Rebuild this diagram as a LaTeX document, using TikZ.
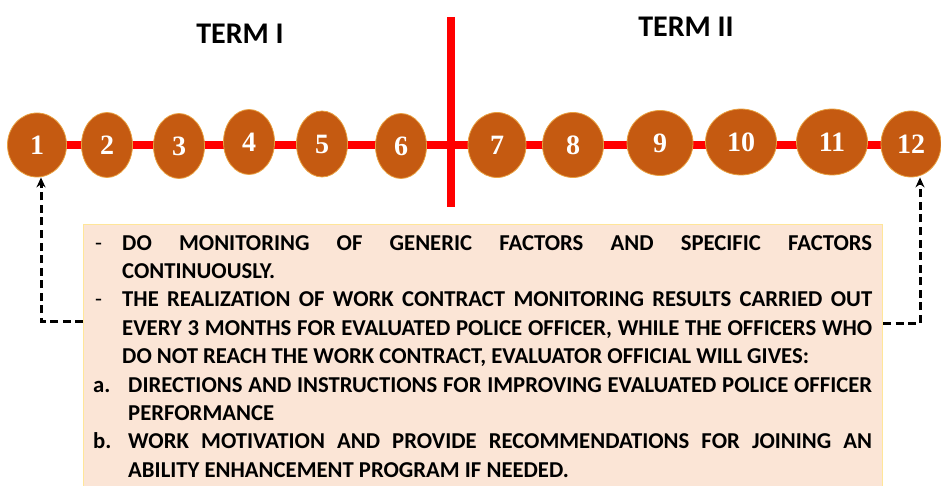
\documentclass[tikz,border=0pt]{standalone}
\usepackage{fontspec}
\setmainfont{Carlito}
\newfontfamily\numfont{Liberation Serif}
\usetikzlibrary{shapes.geometric,arrows.meta}
\definecolor{ballfill}{HTML}{C55A11}
\definecolor{balledge}{HTML}{E8A040}
\definecolor{boxfill}{HTML}{FBE5D6}
\definecolor{boxedge}{HTML}{FFE699}
\definecolor{redline}{HTML}{FF0000}
\newcommand{\bodyfont}{\fontsize{22.7}{28.4}\selectfont\bfseries}
\tikzset{
  ball/.style={ellipse, fill=ballfill, draw=balledge, line width=0.8pt, inner sep=0pt,
    text=white, font=\numfont\bfseries\fontsize{28}{30}\selectfont},
  txt/.style={anchor=base west, inner sep=0pt, font=\bodyfont},
  bulletmark/.style={anchor=base west, inner sep=0pt, font=\fontsize{22.7}{28.4}\selectfont},
  term/.style={inner sep=0pt, font=\bfseries\fontsize{30}{32}\selectfont},
  conn/.style={line width=3pt, dash pattern=on 8pt off 4.5pt, -{Stealth[length=10pt,width=9pt]}},
  redbar/.style={redline, line width=8pt}
}
\begin{document}
\begin{tikzpicture}[x=1pt,y=-1pt]
\useasboundingbox (0,0) rectangle (941,486);
% terms
\node[term] (t1) at (240,34) {TERM I};
\node[term] (t2) at (686,27) {TERM II};
% red timeline
\coordinate (vtop) at (451,17);
\coordinate (vbot) at (451,207);
\draw[redbar] (vtop) -- (vbot);
\coordinate (hl) at (37,145);
\coordinate (hr) at (911,145);
\draw[redbar] (hl) -- (hr);
% balls
\node[ball, minimum width=59pt, minimum height=64pt] (n1) at (37,145) {1};
\node[ball, minimum width=51pt, minimum height=65pt] (n2) at (107,145) {2};
\node[ball, minimum width=51pt, minimum height=65pt] (n3) at (179,146) {3};
\node[ball, minimum width=51pt, minimum height=65pt] (n4) at (249,142) {4};
\node[ball, minimum width=51pt, minimum height=66pt] (n5) at (322,144) {5};
\node[ball, minimum width=51pt, minimum height=65pt] (n6) at (401,146) {6};
\node[ball, minimum width=58pt, minimum height=65pt] (n7) at (497,145) {7};
\node[ball, minimum width=61pt, minimum height=65pt] (n8) at (573,145) {8};
\node[ball, minimum width=66pt, minimum height=65pt] (n9) at (660,143) {9};
\node[ball, minimum width=71pt, minimum height=66pt] (n10) at (741,142) {10};
\node[ball, minimum width=71pt, minimum height=66pt] (n11) at (832,142) {11};
\node[ball, minimum width=60pt, minimum height=66pt] (n12) at (911,144) {12};
% box
\node[draw=boxedge, fill=boxfill, line width=1pt, minimum width=799pt, minimum height=266pt,
  inner sep=0pt, anchor=north west] (box) at (83,224) {};
% text lines
\node[bulletmark] (m1) at (95,250) {-};
\node[txt] (l1) at (122,250) {\makebox[750pt][s]{DO MONITORING OF GENERIC FACTORS AND SPECIFIC FACTORS}};
\node[txt] (l2) at (122,278.4) {CONTINUOUSLY.};
\node[bulletmark] (m3) at (95,306.8) {-};
\node[txt] (l3) at (122,306.8) {\makebox[750pt][s]{THE REALIZATION OF WORK CONTRACT MONITORING RESULTS CARRIED OUT}};
\node[txt] (l4) at (122,335.2) {\makebox[750pt][s]{EVERY 3 MONTHS FOR EVALUATED POLICE OFFICER, WHILE THE OFFICERS WHO}};
\node[txt] (l5) at (122,363.6) {DO NOT REACH THE WORK CONTRACT, EVALUATOR OFFICIAL WILL GIVES:};
\node[txt] (m6) at (93,392) {a.};
\node[txt] (l6) at (128,392) {\makebox[744pt][s]{DIRECTIONS AND INSTRUCTIONS FOR IMPROVING EVALUATED POLICE OFFICER}};
\node[txt] (l7) at (128,420.4) {PERFORMANCE};
\node[txt] (m8) at (93,448.8) {b.};
\node[txt] (l8) at (128,448.8) {\makebox[744pt][s]{WORK MOTIVATION AND PROVIDE RECOMMENDATIONS FOR JOINING AN}};
\node[txt] (l9) at (128,477.2) {ABILITY ENHANCEMENT PROGRAM IF NEEDED.};
% connectors
\coordinate (la) at (41,321);
\coordinate (ra) at (920,323);
\draw[conn] (box.west |- la) -- (la) -- (la |- n1.south);
\draw[conn] (box.east |- ra) -- (ra) -- (ra |- n12.south);
\end{tikzpicture}
\end{document}
